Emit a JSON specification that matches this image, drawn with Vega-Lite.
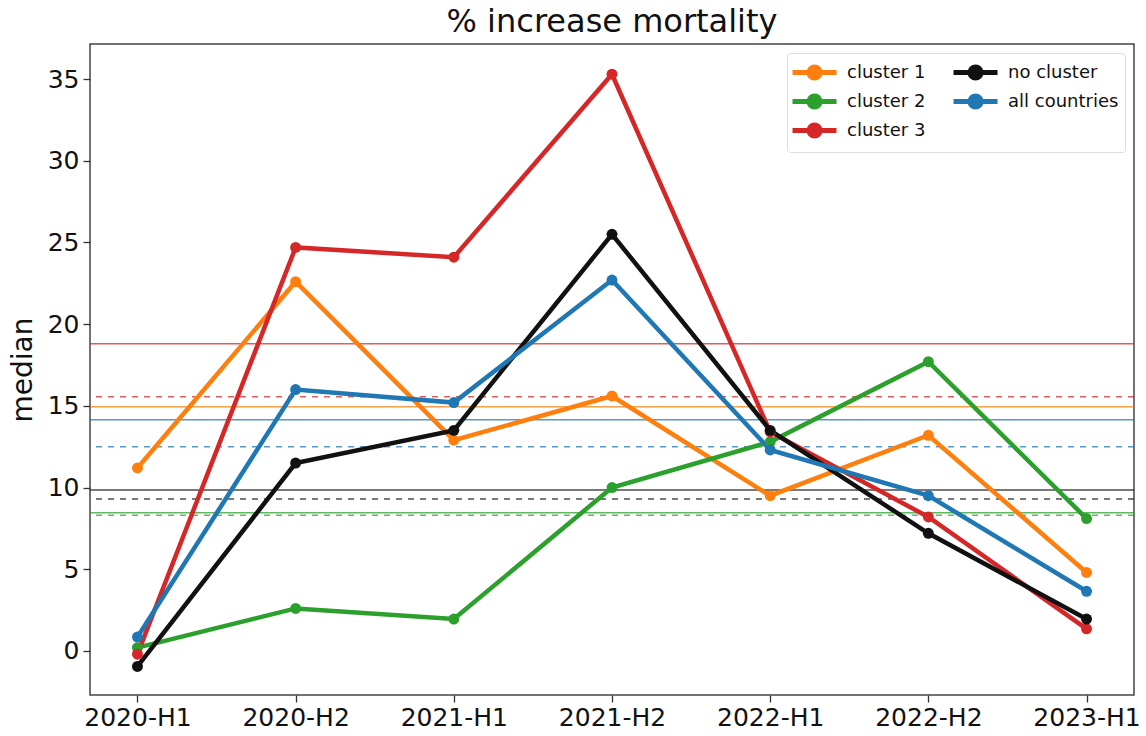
{
  "$schema": "https://vega.github.io/schema/vega-lite/v6.json",
  "width": 1044,
  "height": 651,
  "autosize": "none",
  "padding": {"left": 90, "top": 44, "right": 12, "bottom": 41},
  "background": "white",
  "config": {
    "font": "DejaVu Sans",
    "view": {"stroke": "#444", "strokeWidth": 1.5},
    "axis": {"grid": false, "domain": false, "tickColor": "#333", "tickSize": 7, "tickWidth": 1.3, "labelColor": "#111", "titleColor": "#111", "labelFontSize": 25, "titleFontSize": 28, "titleFontWeight": "normal"}
  },
  "title": {"text": "% increase mortality", "fontSize": 32, "fontWeight": "normal", "color": "#111", "anchor": "middle", "offset": 5},
  "datasets": {
    "series": [
      {"period": "2020-H1", "group": "cluster 1", "median": 11.2},
      {"period": "2020-H2", "group": "cluster 1", "median": 22.6},
      {"period": "2021-H1", "group": "cluster 1", "median": 12.9},
      {"period": "2021-H2", "group": "cluster 1", "median": 15.6},
      {"period": "2022-H1", "group": "cluster 1", "median": 9.5},
      {"period": "2022-H2", "group": "cluster 1", "median": 13.2},
      {"period": "2023-H1", "group": "cluster 1", "median": 4.8},
      {"period": "2020-H1", "group": "cluster 2", "median": 0.2},
      {"period": "2020-H2", "group": "cluster 2", "median": 2.6},
      {"period": "2021-H1", "group": "cluster 2", "median": 1.95},
      {"period": "2021-H2", "group": "cluster 2", "median": 10.0},
      {"period": "2022-H1", "group": "cluster 2", "median": 12.8},
      {"period": "2022-H2", "group": "cluster 2", "median": 17.7},
      {"period": "2023-H1", "group": "cluster 2", "median": 8.1},
      {"period": "2020-H1", "group": "cluster 3", "median": -0.2},
      {"period": "2020-H2", "group": "cluster 3", "median": 24.7},
      {"period": "2021-H1", "group": "cluster 3", "median": 24.1},
      {"period": "2021-H2", "group": "cluster 3", "median": 35.3},
      {"period": "2022-H1", "group": "cluster 3", "median": 13.4},
      {"period": "2022-H2", "group": "cluster 3", "median": 8.2},
      {"period": "2023-H1", "group": "cluster 3", "median": 1.35},
      {"period": "2020-H1", "group": "no cluster", "median": -0.95},
      {"period": "2020-H2", "group": "no cluster", "median": 11.5},
      {"period": "2021-H1", "group": "no cluster", "median": 13.5},
      {"period": "2021-H2", "group": "no cluster", "median": 25.5},
      {"period": "2022-H1", "group": "no cluster", "median": 13.5},
      {"period": "2022-H2", "group": "no cluster", "median": 7.2},
      {"period": "2023-H1", "group": "no cluster", "median": 1.95},
      {"period": "2020-H1", "group": "all countries", "median": 0.85},
      {"period": "2020-H2", "group": "all countries", "median": 16.0},
      {"period": "2021-H1", "group": "all countries", "median": 15.2},
      {"period": "2021-H2", "group": "all countries", "median": 22.7},
      {"period": "2022-H1", "group": "all countries", "median": 12.3},
      {"period": "2022-H2", "group": "all countries", "median": 9.5},
      {"period": "2023-H1", "group": "all countries", "median": 3.65}
    ],
    "refs": [
      {"group": "cluster 3", "kind": "solid", "value": 18.8},
      {"group": "cluster 3", "kind": "dashed", "value": 15.55},
      {"group": "cluster 1", "kind": "solid", "value": 14.95},
      {"group": "all countries", "kind": "solid", "value": 14.15},
      {"group": "all countries", "kind": "dashed", "value": 12.5},
      {"group": "no cluster", "kind": "solid", "value": 9.85},
      {"group": "no cluster", "kind": "dashed", "value": 9.3},
      {"group": "cluster 2", "kind": "solid", "value": 8.45},
      {"group": "cluster 2", "kind": "dashed", "value": 8.3}
    ]
  },
  "layer": [
    {
      "data": {"name": "refs"},
      "mark": {"type": "rule", "strokeWidth": 1.5, "opacity": 0.75},
      "encoding": {
        "y": {"field": "value", "type": "quantitative", "scale": {"domain": [-2.7, 37.15], "nice": false, "zero": false}},
        "color": {"field": "group", "type": "nominal"},
        "strokeDash": {"field": "kind", "type": "nominal", "legend": null,
          "scale": {"domain": ["solid", "dashed"], "range": [[1, 0], [6, 6]]}}
      }
    },
    {
      "data": {"name": "series"},
      "mark": {"type": "line", "strokeWidth": 4.5, "point": {"filled": true, "size": 120, "opacity": 1}},
      "encoding": {
        "x": {"field": "period", "type": "ordinal", "title": null,
          "scale": {"type": "point", "padding": 0.3},
          "axis": {"labelAngle": 0, "labelPadding": 3}},
        "y": {"field": "median", "type": "quantitative", "title": "median",
          "scale": {"domain": [-2.7, 37.15], "nice": false, "zero": false},
          "axis": {"values": [0, 5, 10, 15, 20, 25, 30, 35], "titlePadding": 10, "labelPadding": 4}},
        "color": {"field": "group", "type": "nominal",
          "scale": {"domain": ["cluster 1", "cluster 2", "cluster 3", "no cluster", "all countries"], "range": ["#ff7f0e", "#2ca02c", "#d62728", "#111111", "#1f77b4"]},
          "legend": {"title": null, "orient": "top-right", "columns": 2, "offset": 9,
            "symbolType": "M-1.27,0H2.73M0.23,0a0.5,0.5 0 1,0 1,0a0.5,0.5 0 1,0 -1,0",
            "symbolStrokeWidth": 5, "symbolSize": 484, "labelFontSize": 18, "labelColor": "#111",
            "rowPadding": -8, "columnPadding": 17, "padding": 6, "labelOffset": 27,
            "fillColor": "white", "strokeColor": "#ddd", "cornerRadius": 3,
            "encode": {"symbols": {"update": {"fill": {"scale": "color", "field": "value"}, "stroke": {"scale": "color", "field": "value"}}}}}
        }
      }
    }
  ]
}
